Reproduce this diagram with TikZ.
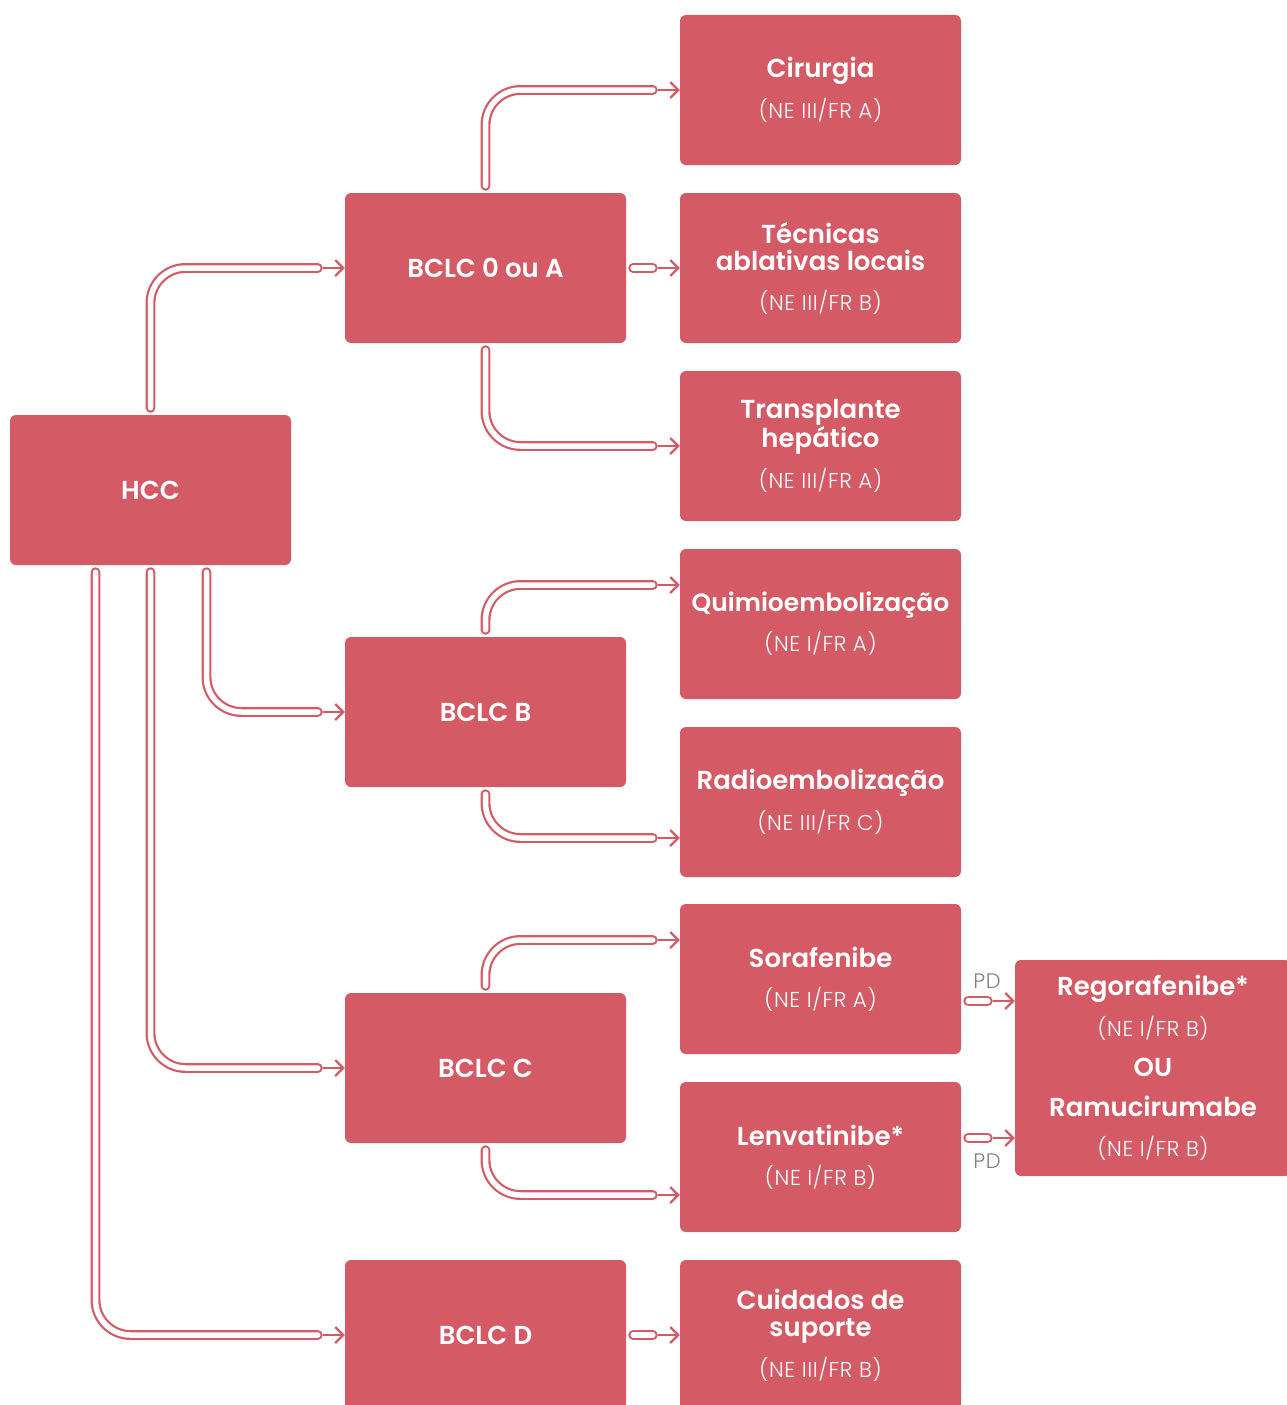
\documentclass[tikz,border=0pt]{standalone}
\usepackage{fontspec}
\setmainfont{Poppins}[BoldFont={Poppins SemiBold}]
\newfontfamily\lt{Poppins Light}[LetterSpace=3]
\usetikzlibrary{arrows.meta,calc}
\definecolor{boxc}{RGB}{212,91,101}
\definecolor{pdc}{RGB}{128,128,128}
\tikzset{
  box/.style={fill=boxc, draw=none, rounded corners=6pt, minimum width=281pt, minimum height=150pt,
    text=white, align=center, font=\fontsize{26}{27}\selectfont\bfseries, inner sep=0pt},
  pipe/.style={draw=boxc, line width=2.2pt, double=white, double distance=5.5pt, line cap=round, rounded corners=35pt},
  arr/.style={draw=boxc, line width=2.2pt, -{Straight Barb[length=8pt,width=16pt]}},
  pd/.style={text=pdc, font=\lt\fontsize{21}{21}\selectfont, inner sep=0pt}
}
\newcommand{\nelab}[1]{{\lt\mdseries\fontsize{21.5}{20}\selectfont #1}}
\begin{document}
\begin{tikzpicture}[x=1pt,y=-1pt]
\useasboundingbox (0,0) rectangle (1286,1405);
% nodes
\node[box] (hcc) at (150.5,490) {HCC};
\node[box] (a) at (485.5,268) {BCLC 0 ou A};
\node[box] (b) at (485.5,712) {BCLC B};
\node[box] (c) at (485.5,1068) {BCLC C};
\node[box] (d) at (485.5,1335) {BCLC D};
\node[box] (cir) at (820.5,90) {Cirurgia\\[13pt]\nelab{(NE III/FR A)}};
\node[box] (tec) at (820.5,268) {Técnicas\\ablativas locais\\[13pt]\nelab{(NE III/FR B)}};
\node[box] (tra) at (820.5,446) {Transplante\\hepático\\[13pt]\nelab{(NE III/FR A)}};
\node[box] (qui) at (820.5,624) {{\fontsize{25}{27}\selectfont Quimioembolização}\\[13pt]\nelab{(NE I/FR A)}};
\node[box] (rad) at (820.5,802) {Radioembolização\\[13pt]\nelab{(NE III/FR C)}};
\node[box] (sor) at (820.5,979) {Sorafenibe\\[13pt]\nelab{(NE I/FR A)}};
\node[box] (len) at (820.5,1157) {Lenvatinibe*\\[13pt]\nelab{(NE I/FR B)}};
\node[box] (cui) at (820.5,1335) {Cuidados de\\suporte\\[13pt]\nelab{(NE III/FR B)}};
\node[box, minimum width=276pt, minimum height=216pt] (reg) at (1153,1068)
  {Regorafenibe*\\[13pt]\nelab{(NE I/FR B)}\\[13pt]OU\\[13pt]Ramucirumabe\\[13pt]\nelab{(NE I/FR B)}};
% connectors from HCC
\draw[pipe] ($(hcc.north)+(0,-7)$) |- ($(a.west)+(-27,0)$);
\draw[arr] ($(a.west)+(-22,0)$) -- (a.west);
\draw[pipe] ($(hcc.south)+(56,7)$) |- ($(b.west)+(-27,0)$);
\draw[arr] ($(b.west)+(-22,0)$) -- (b.west);
\draw[pipe] ($(hcc.south)+(0,7)$) |- ($(c.west)+(-27,0)$);
\draw[arr] ($(c.west)+(-22,0)$) -- (c.west);
\draw[pipe] ($(hcc.south)+(-55,7)$) |- ($(d.west)+(-27,0)$);
\draw[arr] ($(d.west)+(-22,0)$) -- (d.west);
% BCLC 0 ou A
\draw[pipe] ($(a.north)+(0,-7)$) |- ($(cir.west)+(-27,0)$);
\draw[arr] ($(cir.west)+(-22,0)$) -- (cir.west);
\draw[pipe] ($(a.east)+(7,0)$) -- ($(tec.west)+(-27,0)$);
\draw[arr] ($(tec.west)+(-22,0)$) -- (tec.west);
\draw[pipe] ($(a.south)+(0,7)$) |- ($(tra.west)+(-27,0)$);
\draw[arr] ($(tra.west)+(-22,0)$) -- (tra.west);
% BCLC B
\draw[pipe] ($(b.north)+(0,-7)$) |- ($(qui.west)+(-27,-39)$);
\draw[arr] ($(qui.west)+(-22,-39)$) -- ($(qui.west)+(0,-39)$);
\draw[pipe] ($(b.south)+(0,7)$) |- ($(rad.west)+(-27,36)$);
\draw[arr] ($(rad.west)+(-22,36)$) -- ($(rad.west)+(0,36)$);
% BCLC C
\draw[pipe] ($(c.north)+(0,-7)$) |- ($(sor.west)+(-27,-39)$);
\draw[arr] ($(sor.west)+(-22,-39)$) -- ($(sor.west)+(0,-39)$);
\draw[pipe] ($(c.south)+(0,7)$) |- ($(len.west)+(-27,38)$);
\draw[arr] ($(len.west)+(-22,38)$) -- ($(len.west)+(0,38)$);
% BCLC D
\draw[pipe] ($(d.east)+(7,0)$) -- ($(cui.west)+(-27,0)$);
\draw[arr] ($(cui.west)+(-22,0)$) -- (cui.west);
% PD connectors
\coordinate (p1) at ($(sor.east)+(0,22)$);
\coordinate (p2) at ($(len.east)+(0,-19)$);
\draw[pipe] ($(p1)+(7,0)$) -- ($(p1 -| reg.west)+(-27,0)$);
\draw[arr] ($(p1 -| reg.west)+(-22,0)$) -- (p1 -| reg.west);
\draw[pipe] ($(p2)+(7,0)$) -- ($(p2 -| reg.west)+(-27,0)$);
\draw[arr] ($(p2 -| reg.west)+(-22,0)$) -- (p2 -| reg.west);
\node[pd] (pd1) at (987,981) {PD};
\node[pd] (pd2) at (987,1161) {PD};
\end{tikzpicture}
\end{document}
